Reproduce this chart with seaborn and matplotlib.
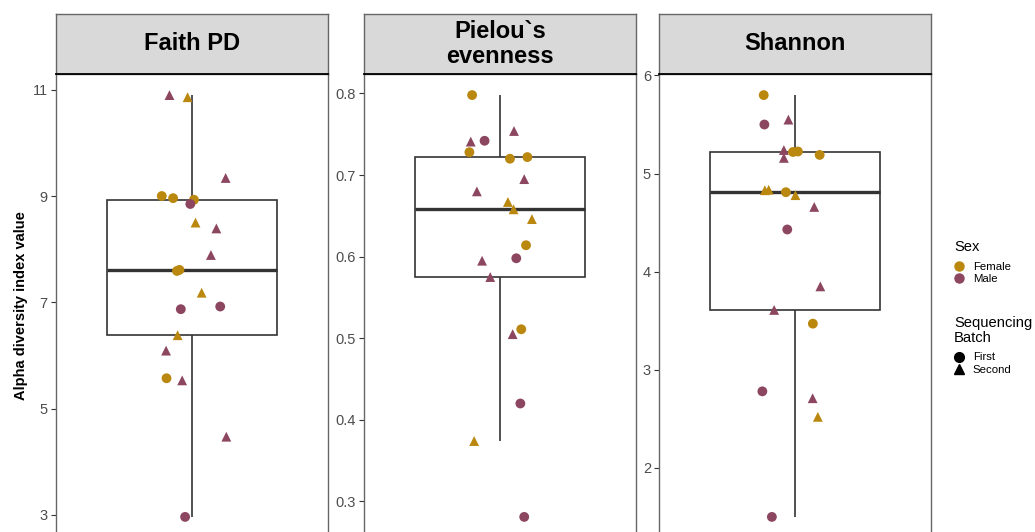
import pandas as pd
import numpy as np
import matplotlib.pyplot as plt
import seaborn as sns
from matplotlib.lines import Line2D

# Faith PD points (value, sex, batch, horizontal jitter)
faith_value = [10.90, 10.86, 9.34, 9.00, 8.96, 8.93, 8.85, 8.50, 8.39, 7.89, 7.59,
               7.61, 7.18, 6.92, 6.87, 6.38, 6.09, 5.57, 5.53, 4.47, 2.96]
faith_sex = ['Male', 'Female', 'Male', 'Female', 'Female', 'Female', 'Male', 'Female', 'Male', 'Male', 'Female',
             'Female', 'Female', 'Male', 'Male', 'Female', 'Male', 'Female', 'Male', 'Male', 'Male']
faith_batch = ['Second', 'Second', 'Second', 'First', 'First', 'First', 'First', 'Second', 'Second', 'Second', 'First',
               'First', 'Second', 'First', 'First', 'Second', 'Second', 'First', 'Second', 'Second', 'First']
faith_jitter = [-0.099, -0.019, 0.149, -0.133, -0.083, 0.009, -0.007, 0.016, 0.108, 0.084, -0.066,
                -0.055, 0.043, 0.125, -0.049, -0.063, -0.114, -0.112, -0.043, 0.152, -0.030]

# Pielou`s evenness
pielou_value = [0.798, 0.754, 0.741, 0.742, 0.728, 0.720, 0.722, 0.695, 0.680, 0.667, 0.658,
                0.646, 0.614, 0.598, 0.595, 0.575, 0.511, 0.505, 0.420, 0.374, 0.281]
pielou_sex = ['Female', 'Male', 'Male', 'Male', 'Female', 'Female', 'Female', 'Male', 'Male', 'Female', 'Female',
              'Female', 'Female', 'Male', 'Male', 'Male', 'Female', 'Male', 'Male', 'Female', 'Male']
pielou_batch = ['First', 'Second', 'Second', 'First', 'First', 'First', 'First', 'Second', 'Second', 'Second', 'Second',
                'Second', 'First', 'First', 'Second', 'Second', 'First', 'Second', 'First', 'Second', 'First']
pielou_jitter = [-0.124, 0.061, -0.130, -0.069, -0.136, 0.043, 0.120, 0.106, -0.103, 0.034, 0.059,
                 0.140, 0.114, 0.071, -0.080, -0.044, 0.093, 0.055, 0.089, -0.115, 0.106]

# Shannon
shannon_value = [5.80, 5.55, 5.50, 5.24, 5.16, 5.22, 5.225, 5.19, 4.83, 4.835, 4.81,
                 4.78, 4.66, 4.43, 3.85, 3.61, 3.47, 2.78, 2.71, 2.52, 1.50]
shannon_sex = ['Female', 'Male', 'Male', 'Male', 'Male', 'Female', 'Female', 'Female', 'Female', 'Female', 'Female',
               'Female', 'Male', 'Male', 'Male', 'Male', 'Female', 'Male', 'Male', 'Female', 'Male']
shannon_batch = ['First', 'Second', 'First', 'Second', 'Second', 'First', 'First', 'First', 'Second', 'Second', 'First',
                 'Second', 'Second', 'First', 'Second', 'Second', 'First', 'First', 'Second', 'Second', 'First']
shannon_jitter = [-0.139, -0.030, -0.136, -0.050, -0.050, -0.010, 0.012, 0.108, -0.134, -0.117, -0.041,
                  0.001, 0.084, -0.035, 0.111, -0.093, 0.078, -0.145, 0.077, 0.100, -0.103]

metrics = ['Faith PD', 'Pielou`s\nevenness', 'Shannon']
yticks = [[3, 5, 7, 9, 11], [0.3, 0.4, 0.5, 0.6, 0.7, 0.8], [2, 3, 4, 5, 6]]
ytick_labels = [['3', '5', '7', '9', '11'], ['0.3', '0.4', '0.5', '0.6', '0.7', '0.8'], ['2', '3', '4', '5', '6']]

sex_order = ['Female', 'Male']
batch_order = ['First', 'Second']
palette = {'Female': '#BA870F', 'Male': '#8C4660'}
markers = {'First': 'o', 'Second': '^'}

sns.set_style("white")
plt.rcParams['font.family'] = ['Liberation Sans', 'DejaVu Sans']
plt.rcParams['text.color'] = 'black'

frames = []
for name, v, s, b, j in [(metrics[0], faith_value, faith_sex, faith_batch, faith_jitter),
                         (metrics[1], pielou_value, pielou_sex, pielou_batch, pielou_jitter),
                         (metrics[2], shannon_value, shannon_sex, shannon_batch, shannon_jitter)]:
    frames.append(pd.DataFrame({'metric': name, 'value': v, 'Sex': s, 'Batch': b, 'jitter': j}))
df = pd.concat(frames, ignore_index=True)

W, H = 1035, 532
fig = plt.figure(figsize=(W / 100, H / 100), dpi=100)

# panel placement in pixels (panels run past the bottom edge like the reference)
panel_left = [56, 364.3, 659.3]
panel_w = 271.8
panel_top, panel_bottom, strip_top = 74, 538, 14

for i, name in enumerate(metrics):
    ax = fig.add_axes([panel_left[i] / W, 1 - panel_bottom / H, panel_w / W, (panel_bottom - panel_top) / H])
    sub = df[df.metric == name]

    sns.boxplot(y=sub['value'], ax=ax, width=0.75, showfliers=False, color='white',
                linecolor='#333333', linewidth=1.2,
                medianprops={'linewidth': 2.4, 'color': '#333333'},
                capprops={'visible': False})
    sns.scatterplot(data=sub, x='jitter', y='value', hue='Sex', style='Batch',
                    hue_order=sex_order, style_order=batch_order,
                    palette=palette, markers=markers, s=50, linewidth=0,
                    legend=False, zorder=3, ax=ax)

    vmin, vmax = sub['value'].min(), sub['value'].max()
    pad = 0.05 * (vmax - vmin)
    ax.set_ylim(vmin - pad, vmax + pad)
    ax.set_xlim(-0.6, 0.6)
    ax.set_yticks(yticks[i])
    ax.set_yticklabels(ytick_labels[i])
    ax.set_xticks([])
    ax.set_xlabel('')
    ax.set_ylabel('')
    ax.tick_params(axis='y', left=True, length=3.5, width=0.8, color='#333333',
                   labelcolor='#4D4D4D', labelsize=10.5, pad=2.5)
    for sp in ax.spines.values():
        sp.set_visible(True)
        sp.set_color('#666666')
        sp.set_linewidth(1.0)

    # facet strip
    sax = fig.add_axes([panel_left[i] / W, 1 - panel_top / H, panel_w / W, (panel_top - strip_top) / H])
    sax.set_facecolor('#D9D9D9')
    sax.set_xticks([])
    sax.set_yticks([])
    for sp in sax.spines.values():
        sp.set_color('#666666')
        sp.set_linewidth(1.0)
    sax.spines['bottom'].set_color('black')
    sax.spines['bottom'].set_linewidth(1.3)
    sax.text(0.5, 0.5, name, ha='center', va='center', fontsize=17, fontweight='bold',
             color='black', linespacing=1.1, transform=sax.transAxes)

fig.text(21 / W, 1 - 306 / H, 'Alpha diversity index value', rotation=90,
         ha='center', va='center', fontsize=10.5, fontweight='bold', color='black')

# legends: titles as text, keys as legends
fig.text(954 / W, 1 - 246.7 / H, 'Sex', ha='left', va='center', fontsize=10.6)
sex_handles = [Line2D([], [], marker='o', ls='', color=palette[k], markersize=6.5, label=k) for k in sex_order]
fig.legend(handles=sex_handles, loc='upper left', bbox_to_anchor=(954 / W, 1 - 261.5 / H),
           frameon=False, fontsize=8.2, labelspacing=0.2, handlelength=0.9, handletextpad=0.75,
           borderpad=0, borderaxespad=0, labelcolor='black')

fig.text(954 / W, 1 - 330.5 / H, 'Sequencing\nBatch', ha='left', va='center', fontsize=10.6,
         linespacing=1.15)
batch_handles = [Line2D([], [], marker=markers[k], ls='', color='black', markersize=7, label=k) for k in batch_order]
fig.legend(handles=batch_handles, loc='upper left', bbox_to_anchor=(954 / W, 1 - 352.5 / H),
           frameon=False, fontsize=8.2, labelspacing=0.2, handlelength=0.9, handletextpad=0.75,
           borderpad=0, borderaxespad=0, labelcolor='black')

fig.savefig('out.png', dpi=100)
